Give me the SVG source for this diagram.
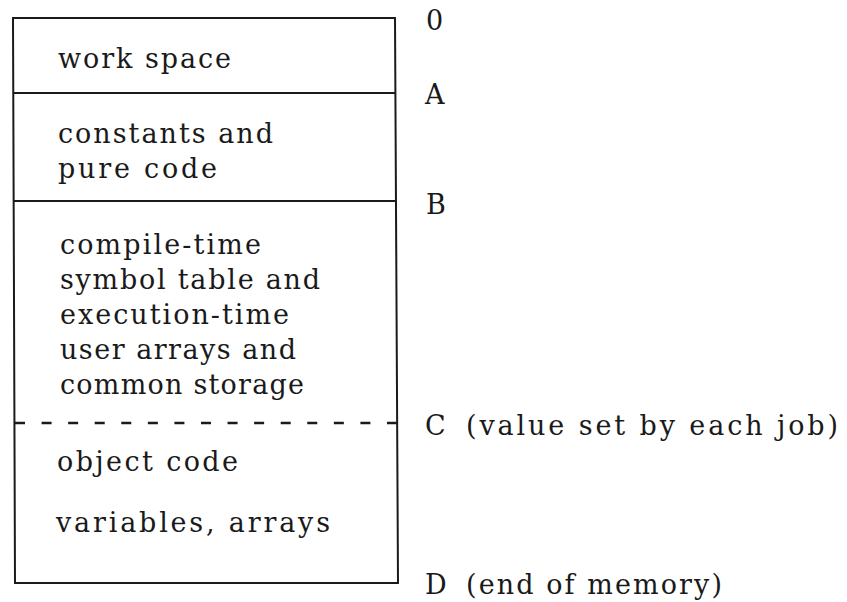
<svg xmlns="http://www.w3.org/2000/svg" width="847" height="602" viewBox="0 0 847 602">
<style>
  text { font-family: "DejaVu Serif", "Liberation Serif", serif; font-size: 27px; fill: #1a1a1a; }
  .frame { fill: none; stroke: #1a1a1a; stroke-width: 2; }
  .div { fill: none; stroke: #1a1a1a; stroke-width: 1.8; }
  .dash { fill: none; stroke: #1a1a1a; stroke-width: 2.4; stroke-dasharray: 10 16.57; }
</style>
<rect width="847" height="602" fill="#ffffff"/>
<g id="connectors">
  <path class="frame" d="M13,18 L395,18 L398,583 L15,583 Z"/>
  <path id="line-A" class="div" d="M13,93 L395.4,93"/>
  <path id="line-B" class="div" d="M14,201 L396,201"/>
  <path id="line-C" class="dash" d="M15,423 L397,423"/>
</g>
<g id="work-space">
  <text x="58" y="68" textLength="173" lengthAdjust="spacing">work space</text>
</g>
<g id="constants">
  <text x="58" y="143" textLength="215" lengthAdjust="spacing">constants and</text>
  <text x="58" y="178" textLength="159" lengthAdjust="spacing">pure code</text>
</g>
<g id="symbol-table">
  <text x="60" y="254" textLength="201" lengthAdjust="spacing">compile-time</text>
  <text x="60" y="289" textLength="260" lengthAdjust="spacing">symbol table and</text>
  <text x="60" y="324" textLength="229" lengthAdjust="spacing">execution-time</text>
  <text x="60" y="359" textLength="236" lengthAdjust="spacing">user arrays and</text>
  <text x="60" y="394" textLength="244" lengthAdjust="spacing">common storage</text>
</g>
<g id="object-code">
  <text x="57" y="471" textLength="181" lengthAdjust="spacing">object code</text>
  <text x="56" y="532" textLength="274" lengthAdjust="spacing">variables, arrays</text>
</g>
<g id="labels">
  <text id="label-0" x="426" y="30">0</text>
  <text id="label-A" x="425" y="104">A</text>
  <text id="label-B" x="426" y="214">B</text>
  <text id="label-C" x="425" y="435">C</text>
  <text id="label-C-note" x="466" y="435" textLength="372" lengthAdjust="spacing">(value set by each job)</text>
  <text id="label-D" x="425" y="594">D</text>
  <text id="label-D-note" x="466" y="594" textLength="256" lengthAdjust="spacing">(end of memory)</text>
</g>
</svg>
